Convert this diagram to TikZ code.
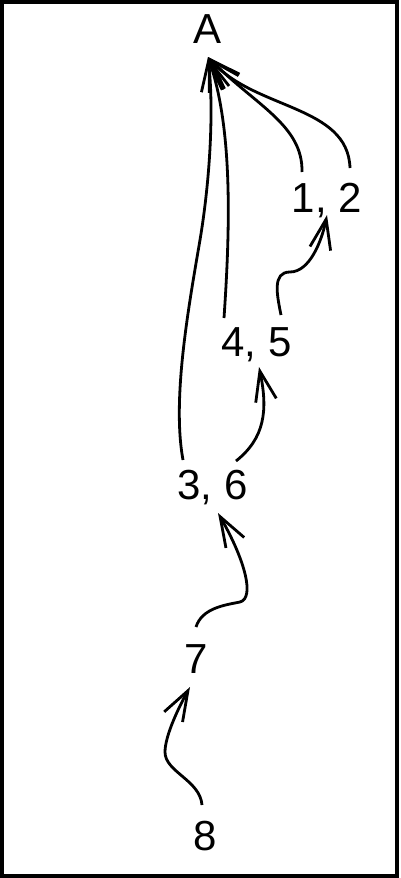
\documentclass[tikz,border=0pt]{standalone}
\usepackage{fontspec}
\setmainfont{Liberation Sans}
\usetikzlibrary{arrows.meta,calc}
\begin{document}
\begin{tikzpicture}[x=1pt,y=-1pt,
  lbl/.style={inner sep=0pt,anchor=base,font=\fontsize{42}{50}\selectfont},
  edge/.style={line width=2.8pt,-{Straight Barb[length=30pt,width=21pt]}}]
\useasboundingbox (0,0) rectangle (400,878);
\draw[line width=3.5pt] (1.75,2) rectangle (397,876);
\node[lbl] (A) at (208,43) {A};
\node[lbl] (n12) at (327,212) {1, 2};
\node[lbl] (n45) at (256.5,356) {4, 5};
\node[lbl] (n36) at (212.5,499) {3, 6};
\node[lbl] (n7) at (196,673) {7};
\node[lbl] (n8) at (205,850) {8};
% edges into A
\draw[edge] ($(n36.base)+(-29.5,-39)$) .. controls (172,400) and (188,310) .. (200,240)
  .. controls (210,180) and (214,110) .. ($(A.base)+(0,14)$);
\draw[edge] ($(n45.base)+(-32.5,-38)$) .. controls (230,230) and (233,130) .. ($(A.base)+(0,14)$);
\draw[edge] ($(n12.base)+(-25,-40)$) .. controls (303,125) and (255,105) .. ($(A.base)+(0,14)$);
\draw[edge] ($(n12.base)+(23,-44)$) .. controls (348,105) and (255,110) .. ($(A.base)+(0,14)$);
% chain
\draw[edge] ($(n45.base)+(24.5,-41)$) .. controls (277,295) and (272,272) .. (290,272)
  .. controls (310,272) and (322,240) .. ($(n12.base)+(0,3)$);
\draw[edge] ($(n36.base)+(23.5,-38)$) .. controls (265,438) and (268,410) .. ($(n45.base)+(2.5,11)$);
\draw[edge] ($(n7.base)+(0,-46)$) .. controls (202,608) and (225,605) .. (240,602)
  .. controls (255,598) and (245,560) .. ($(n36.base)+(5.5,14)$);
\draw[edge] ($(n8.base)+(-3,-45)$) .. controls (200,780) and (165,772) .. (165,752)
  .. controls (165,735) and (180,705) .. ($(n7.base)+(-6,14)$);
\end{tikzpicture}
\end{document}
